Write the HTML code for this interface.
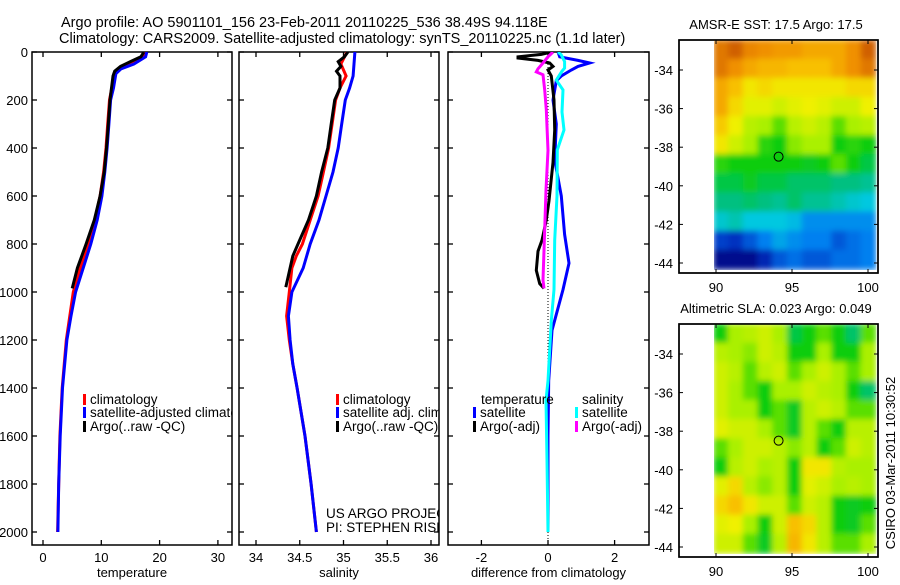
<!DOCTYPE html>
<html><head><meta charset="utf-8">
<style>
html,body{margin:0;padding:0;background:#fff;}
svg text{font-family:"Liberation Sans",sans-serif;fill:#000;}
</style></head>
<body>
<svg id="fig" width="900" height="580" viewBox="0 0 900 580" xmlns="http://www.w3.org/2000/svg">
<defs>
<clipPath id="c1"><rect x="32" y="52" width="200" height="493"/></clipPath>
<clipPath id="c2"><rect x="239" y="52" width="200" height="493"/></clipPath>
<clipPath id="c3"><rect x="448" y="52" width="201" height="493"/></clipPath>
<clipPath id="m1"><rect x="714" y="40" width="164" height="231"/></clipPath>
<clipPath id="m2"><rect x="714" y="324" width="164" height="231"/></clipPath>
<filter id="bl" x="0" y="0" width="1" height="1"><feGaussianBlur stdDeviation="3" edgeMode="duplicate"/></filter>
</defs>
<text x="61" y="27" font-size="14.5">Argo profile: AO 5901101_156 23-Feb-2011 20110225_536 38.49S 94.118E</text>
<text x="59" y="43" font-size="14.5">Climatology: CARS2009. Satellite-adjusted climatology: synTS_20110225.nc (1.1d later)</text>
<g id="g"></g>
</svg>
<script>
// ---- profile data (depth in dbar) ----
const tClimDepth=[0,20,50,70,90,150,200,300,400,500,600,700,800,900,1000,1100,1200,1400,1600,1800,2000];
const tClim=[17.5,17.2,15,13,12.2,11.8,11.4,11.1,10.8,10.4,9.8,8.9,7.7,6.4,5.2,4.6,4.0,3.3,2.9,2.7,2.5];
const tSat=[17.8,17.6,15.6,13.4,12.5,12.1,11.6,11.3,11.0,10.6,10.1,9.3,8.2,6.9,5.6,4.8,4.1,3.35,2.95,2.7,2.55];
const tArgoDepth=[0,20,40,60,80,100,200,300,400,500,600,700,800,900,985];
const tArgo=[17.3,16.8,15,13.3,12.3,12.0,11.5,11.2,10.9,10.5,9.8,8.8,7.4,5.9,5.0];
const sClimDepth=[0,50,100,150,200,300,400,500,600,700,800,850,900,1000,1100,1200,1300,1400,1600,1800,2000];
const sClim=[35.04,34.97,35.03,34.96,34.91,34.87,34.83,34.77,34.71,34.62,34.53,34.46,34.41,34.38,34.35,34.38,34.42,34.47,34.56,34.63,34.69];
const sSat=[35.13,35.12,35.11,35.07,35.02,34.98,34.94,34.88,34.80,34.72,34.62,34.58,34.54,34.41,34.37,34.39,34.42,34.47,34.56,34.63,34.69];
const sArgoDepth=[0,20,40,60,80,100,150,200,300,400,500,600,700,800,850,900,980];
const sArgo=[35.05,35.01,34.94,34.97,34.92,34.96,34.96,34.90,34.86,34.82,34.75,34.69,34.60,34.48,34.42,34.39,34.34];
const dTSatDepth=[0,20,35,46,60,75,100,120,200,300,450,600,760,880,990,1160,1370,1600,2000];
const dTSat=[0.3,0.35,0.9,1.25,0.9,0.7,0.4,0.25,0.15,0.25,0.2,0.4,0.5,0.63,0.45,0.12,0.02,0,0];
const dTArgoDepth=[0,10,20,25,35,46,60,75,100,200,325,460,620,700,784,830,910,965,985];
const dTArgo=[0.1,-0.2,-0.9,-0.9,-0.3,0.05,0.15,0.0,0.1,0.18,0.2,0.15,0.03,-0.05,-0.18,-0.3,-0.35,-0.25,-0.12];
const dSSatDepth=[0,12,40,67,80,117,158,250,325,408,600,784,990,1120,1370,1450,1700,2000];
const dSSat=[0.3,0.4,0.5,0.5,0.42,0.25,0.45,0.42,0.48,0.28,0.27,0.2,0.18,0.1,0,-0.06,-0.03,0];
const dSArgoDepth=[0,20,46,70,83,95,158,240,410,575,740,950,985];
const dSArgo=[0.15,0.0,-0.15,-0.3,-0.35,-0.15,-0.1,-0.05,0,-0.06,-0.1,-0.15,-0.12];
const depthTicks=[0,200,400,600,800,1000,1200,1400,1600,1800,2000];
const tTicks=[0,10,20,30];
const sTicks=[34,34.5,35,35.5,36];
const dTicks=[-2,0,2];
// ---- map data (normalized colour value 0..1, rows lat -33..-44, cols lon 90..100) ----
const sstGrid=[
[0.95,1.0,0.92,0.9,0.88,0.88,0.85,0.85,0.85,0.9,1.0],
[0.95,0.9,0.85,0.82,0.82,0.8,0.8,0.8,0.85,0.9,0.95],
[0.85,0.8,0.72,0.75,0.72,0.72,0.72,0.72,0.72,0.75,0.75],
[0.85,0.75,0.68,0.68,0.65,0.68,0.7,0.68,0.65,0.65,0.7],
[0.78,0.7,0.62,0.6,0.55,0.62,0.65,0.62,0.55,0.6,0.62],
[0.72,0.65,0.6,0.52,0.5,0.58,0.6,0.6,0.5,0.52,0.5],
[0.52,0.5,0.5,0.5,0.5,0.5,0.48,0.5,0.55,0.5,0.45],
[0.45,0.45,0.48,0.45,0.45,0.42,0.42,0.42,0.4,0.4,0.38],
[0.4,0.4,0.42,0.4,0.38,0.42,0.38,0.38,0.35,0.32,0.3],
[0.32,0.35,0.3,0.3,0.3,0.28,0.22,0.22,0.22,0.22,0.22],
[0.12,0.1,0.15,0.2,0.25,0.22,0.2,0.2,0.15,0.18,0.2],
[0.02,0.02,0.02,0.08,0.15,0.18,0.15,0.15,0.18,0.18,0.2]];
const slaGrid=[
[0.5,0.6,0.62,0.65,0.6,0.45,0.5,0.55,0.5,0.42,0.55],
[0.62,0.6,0.58,0.65,0.62,0.5,0.5,0.6,0.5,0.5,0.6],
[0.65,0.62,0.55,0.62,0.65,0.55,0.6,0.65,0.6,0.55,0.6],
[0.65,0.6,0.55,0.5,0.6,0.6,0.65,0.62,0.6,0.5,0.42],
[0.65,0.6,0.6,0.5,0.55,0.48,0.62,0.65,0.62,0.55,0.55],
[0.68,0.65,0.65,0.6,0.55,0.48,0.62,0.55,0.5,0.62,0.62],
[0.55,0.6,0.65,0.65,0.62,0.58,0.62,0.5,0.55,0.65,0.62],
[0.5,0.62,0.65,0.6,0.62,0.5,0.72,0.72,0.62,0.6,0.6],
[0.68,0.75,0.62,0.58,0.62,0.5,0.68,0.65,0.6,0.62,0.6],
[0.75,0.8,0.72,0.65,0.65,0.55,0.65,0.62,0.5,0.48,0.5],
[0.68,0.7,0.6,0.5,0.65,0.8,0.75,0.62,0.5,0.48,0.55],
[0.65,0.65,0.55,0.48,0.62,0.82,0.72,0.62,0.55,0.55,0.6]];
const latTicks=[-34,-36,-38,-40,-42,-44];
const lonTicks=[90,95,100];
const argoLon=94.118, argoLat=-38.49;

const NS='http://www.w3.org/2000/svg';
const G=document.getElementById('g');
function mk(tag,attrs,parent,txt){const e=document.createElementNS(NS,tag);for(const k in attrs)e.setAttribute(k,attrs[k]);if(txt!==undefined)e.textContent=txt;(parent||G).appendChild(e);return e;}
const yD=d=>52+d*0.24;
const xT=v=>43+v*5.83;
const xS=v=>256+(v-34)*87.5;
const xDf=v=>548+v*33.3;

function panel(name,x0,x1,xf,ticks,label,showY){
  const r=mk('rect',{x:x0,y:52,width:x1-x0,height:493,fill:'none',stroke:'#000','stroke-width':1.5});
  
  
  depthTicks.forEach(d=>{
    const y=yD(d);
    mk('line',{x1:x0,x2:x0+5,y1:y,y2:y,stroke:'#000','stroke-width':1.3});
    mk('line',{x1:x1-5,x2:x1,y1:y,y2:y,stroke:'#000','stroke-width':1.3});
    if(showY){const t=mk('text',{x:28,y:y+5,'font-size':13,'text-anchor':'end'},G,String(d));
      
      }
  });
  ticks.forEach(v=>{
    const x=xf(v);
    mk('line',{x1:x,x2:x,y1:545,y2:540,stroke:'#000','stroke-width':1.3});
    mk('line',{x1:x,x2:x,y1:52,y2:57,stroke:'#000','stroke-width':1.3});
    const t=mk('text',{x:x,y:562,'font-size':13,'text-anchor':'middle'},G,String(v));
    
    
  });
  const l=mk('text',{x:(x0+x1)/2,y:577,'font-size':13,'text-anchor':'middle'},G,label);
  
  
}
panel('temperature',32,232,xT,tTicks,'temperature',true);
panel('salinity',239,439,xS,sTicks,'salinity',false);
panel('difference',448,649,xDf,dTicks,'difference from climatology',false);
const zl=mk('line',{x1:548,x2:548,y1:52,y2:545,stroke:'#000','stroke-dasharray':'1,2'});



function line(name,depths,vals,xf,color,clip){
  const pts=depths.map((d,i)=>xf(vals[i]).toFixed(1)+','+yD(d).toFixed(1)).join(' ');
  const p=mk('polyline',{points:pts,fill:'none',stroke:color,'stroke-width':3,'clip-path':'url(#'+clip+')','stroke-linejoin':'miter'});
  
  
}
line('temp-climatology-line',tClimDepth,tClim,xT,'#f00','c1');
line('temp-satellite-line',tClimDepth,tSat,xT,'#00f','c1');
line('temp-argo-line',tArgoDepth,tArgo,xT,'#000','c1');
line('sal-climatology-line',sClimDepth,sClim,xS,'#f00','c2');
line('sal-satellite-line',sClimDepth,sSat,xS,'#00f','c2');
line('sal-argo-line',sArgoDepth,sArgo,xS,'#000','c2');
line('diff-temp-satellite-line',dTSatDepth,dTSat,xDf,'#00f','c3');
line('diff-sal-satellite-line',dSSatDepth,dSSat,xDf,'#0ff','c3');
line('diff-temp-argo-line',dTArgoDepth,dTArgo,xDf,'#000','c3');
line('diff-sal-argo-line',dSArgoDepth,dSArgo,xDf,'#f0f','c3');

function legend(name,x,y,color,text,clip){
  const g=mk('g',{'clip-path':clip?'url(#'+clip+')':''});
  
  
  if(color)mk('rect',{x:x,y:y-10,width:3,height:11,fill:color},g);
  mk('text',{x:x+7,y:y,'font-size':13.5},g,text);
}
legend('legend-climatology',83,404,'#f00','climatology','c1');
legend('legend-satellite-adjusted',83,417,'#00f','satellite-adjusted climatology','c1');
legend('legend-argo',83,431,'#000','Argo(..raw -QC)','c1');
legend('legend-sal-climatology',336,404,'#f00','climatology','c2');
legend('legend-sal-satellite',336,417,'#00f','satellite adj. clim.','c2');
legend('legend-sal-argo',336,431,'#000','Argo(..raw -QC)','c2');
legend('credit-project',319,518,null,'US ARGO PROJECT','c2');
legend('credit-pi',319,532,null,'PI: STEPHEN RISER','c2');
legend('legend-diff-temp-title',474,404,null,'temperature');
legend('legend-diff-temp-satellite',473,417,'#00f','satellite');
legend('legend-diff-temp-argo',473,431,'#000','Argo(-adj)');
legend('legend-diff-sal-title',575,404,null,'salinity');
legend('legend-diff-sal-satellite',575,417,'#0ff','satellite');
legend('legend-diff-sal-argo',575,431,'#f0f','Argo(-adj)');

// ---- maps ----
const stops=[[0,[0,0,128]],[0.1,[0,48,192]],[0.2,[0,128,240]],[0.3,[0,200,224]],[0.4,[0,192,128]],[0.5,[10,205,10]],[0.6,[170,240,0]],[0.7,[240,240,0]],[0.8,[248,192,0]],[0.9,[240,144,0]],[1,[208,96,0]]];
function cmap(v){v=Math.max(0,Math.min(1,v));for(let i=1;i<stops.length;i++){if(v<=stops[i][0]){const a=stops[i-1],b=stops[i];const f=(v-a[0])/(b[0]-a[0]);const c=a[1].map((x,k)=>Math.round(x+(b[1][k]-x)*f));return 'rgb('+c.join(',')+')';}}return 'rgb(208,96,0)';}
function map(name,top,grid,title){
  const lx=lon=>716+(lon-90)*15.2;
  const ly=lat=>top+30+(-34-lat)*19.3;
  const box=mk('rect',{x:679,y:top,width:199,height:233,fill:'#fff',stroke:'#000','stroke-width':1.5});
  
  
  const cg=mk('g',{'clip-path':'url(#'+(top<100?'m1':'m2')+')'});
  const ig=mk('g',{filter:'url(#bl)'},cg);
  
  
  grid.forEach((row,r)=>row.forEach((v,c)=>{
    const lon0=89.85+c*0.97, lat0=-32.45-r*0.99;
    const cell=mk('rect',{x:lx(lon0)-0.5,y:ly(lat0)-0.5,width:0.97*15.2+1,height:0.99*19.3+1,fill:cmap(v)},ig);
    
    
  }));
  mk('rect',{x:679,y:top,width:199,height:233,fill:'none',stroke:'#000','stroke-width':1.5});
  latTicks.forEach(l=>{const y=ly(l);mk('line',{x1:679,x2:683,y1:y,y2:y,stroke:'#000'});mk('line',{x1:874,x2:878,y1:y,y2:y,stroke:'#000'});
    const t=mk('text',{x:673,y:y+5,'font-size':13,'text-anchor':'end'},G,String(l));
    
    });
  lonTicks.forEach(l=>{const x=lx(l);mk('line',{x1:x,x2:x,y1:top+233,y2:top+229,stroke:'#000'});mk('line',{x1:x,x2:x,y1:top,y2:top+4,stroke:'#000'});
    const t=mk('text',{x:x,y:top+252,'font-size':13,'text-anchor':'middle'},G,String(l));
    
    });
  const c=mk('circle',{cx:lx(argoLon),cy:ly(argoLat),r:4.5,fill:'none',stroke:'#000','stroke-width':1});
  
  
  const tt=mk('text',{x:776,y:top-11,'font-size':13,'text-anchor':'middle'},G,title);
  
  
}
map('sst',40,sstGrid,'AMSR-E SST: 17.5 Argo: 17.5');
map('sla',324,slaGrid,'Altimetric SLA: 0.023 Argo: 0.049');
const cr=mk('text',{x:0,y:0,'font-size':13,'text-anchor':'middle',transform:'translate(895,463) rotate(-90)'},G,'CSIRO 03-Mar-2011 10:30:52');


</script>
</body></html>
